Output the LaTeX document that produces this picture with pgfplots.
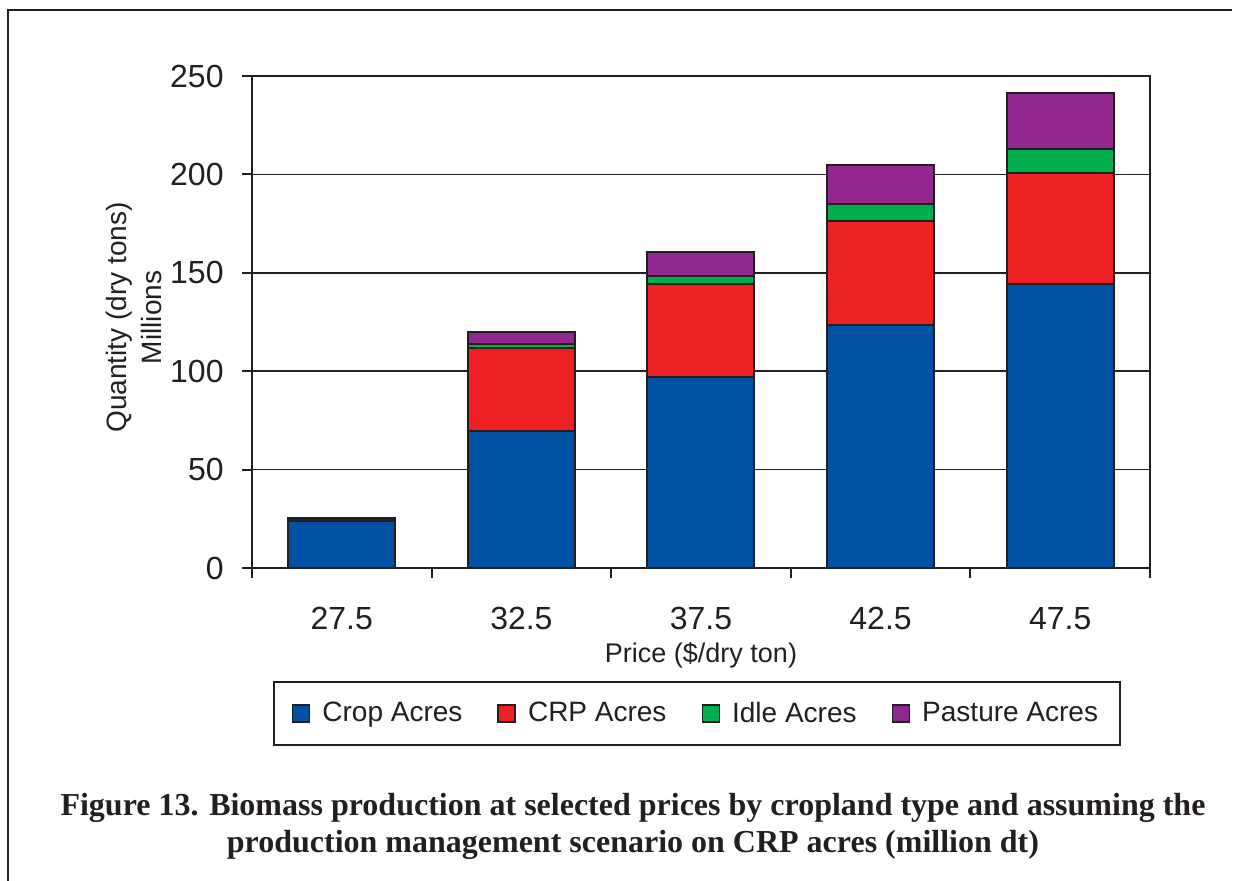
\documentclass[border=0pt]{standalone}
\usepackage{pgfplots}
\pgfplotsset{compat=1.18}
\usepackage{fontspec}
\setmainfont{Liberation Sans}
\newfontfamily\capfont{Liberation Serif}
\definecolor{cropblue}{RGB}{0,82,164}
\definecolor{crpred}{RGB}{237,32,36}
\definecolor{idlegreen}{RGB}{0,174,77}
\definecolor{pastpurple}{RGB}{146,39,143}
\definecolor{darkline}{RGB}{35,31,32}
\begin{document}
\begin{tikzpicture}
\begin{axis}[
  scale only axis,
  width=449pt, height=246pt,
  at={(0pt,0pt)}, anchor=south west,
  ybar stacked,
  bar width=53.5pt,
  xmin=-0.5, xmax=4.5,
  ymin=0, ymax=250,
  ytick={0,50,100,150,200,250},
  xtick={-0.5,0.5,1.5,2.5,3.5,4.5},
  xticklabels={},
  extra x ticks={0,1,2,3,4},
  extra x tick labels={27.5,32.5,37.5,42.5,47.5},
  extra x tick style={major tick length=0pt},
  tick pos=left,
  tick align=outside,
  major tick length=5pt,
  ymajorgrids,
  major grid style={draw=darkline, line width=0.8pt},
  axis line style={draw=darkline, line width=1pt},
  every tick/.style={draw=darkline, line width=1pt},
  /pgf/number format/assume math mode=true,
  tick label style={font=\fontsize{16}{19}\selectfont, text=darkline},
  yticklabel style={anchor=east, inner sep=0pt, xshift=-9pt},
  xticklabel style={anchor=base, inner sep=0pt, yshift=-30.75pt},
  legend columns=4,
  legend style={at={(0.4955,-0.2957)}, anchor=center,
    draw=darkline, line width=1pt,
    font=\fontsize{14}{17}\selectfont, text=darkline,
    inner xsep=9pt, inner ysep=8pt,
    nodes={inner sep=2pt},
    /tikz/every odd column/.append style={column sep=4pt},
    /tikz/every even column/.append style={column sep=15.5pt}},
  legend image code/.code={\draw[#1, draw=darkline, line width=0.8pt] (0pt,-4.25pt) rectangle (8.5pt,4.25pt);},
  every axis plot/.append style={draw=darkline, line width=1pt},
]
\addplot[fill=cropblue] coordinates {(0,24.1) (1,69.6) (2,97.3) (3,123.5) (4,144.3)};
\addplot[fill=crpred] coordinates {(0,0.6) (1,42.3) (2,46.9) (3,52.8) (4,56.3)};
\addplot[fill=idlegreen] coordinates {(0,0.3) (1,1.8) (2,4.3) (3,8.8) (4,12.1)};
\addplot[fill=pastpurple] coordinates {(0,0.6) (1,6.1) (2,11.9) (3,19.7) (4,28.5)};
\legend{Crop Acres, CRP Acres, Idle Acres, Pasture Acres}
\end{axis}
\node[rotate=90, anchor=base, font=\fontsize{14}{17}\selectfont, text=darkline] at (-62.5pt,125.25pt) {Quantity (dry tons)};
\node[rotate=90, anchor=base, font=\fontsize{14}{17}\selectfont, text=darkline] at (-45pt,125.25pt) {Millions};
\node[anchor=base, font=\fontsize{13.5}{16}\selectfont, text=darkline] at (224.5pt,-47.3pt) {Price (\$/dry ton)};
\node[anchor=base, font=\capfont\bfseries\fontsize{16}{19}\selectfont, text=darkline] at (190.5pt,-123.5pt) {Figure 13. Biomass production at selected prices by cropland type and assuming the};
\node[anchor=base, font=\capfont\bfseries\fontsize{16}{19}\selectfont, text=darkline] at (190.5pt,-142pt) {production management scenario on CRP acres (million dt)};
\draw[darkline, line width=1.35pt] (-122pt,-160pt) -- (-122pt,279pt) -- (490pt,279pt);
\pgfresetboundingbox
\path[use as bounding box] (-126pt,-156pt) rectangle (496pt,284pt);
\end{tikzpicture}
\end{document}
